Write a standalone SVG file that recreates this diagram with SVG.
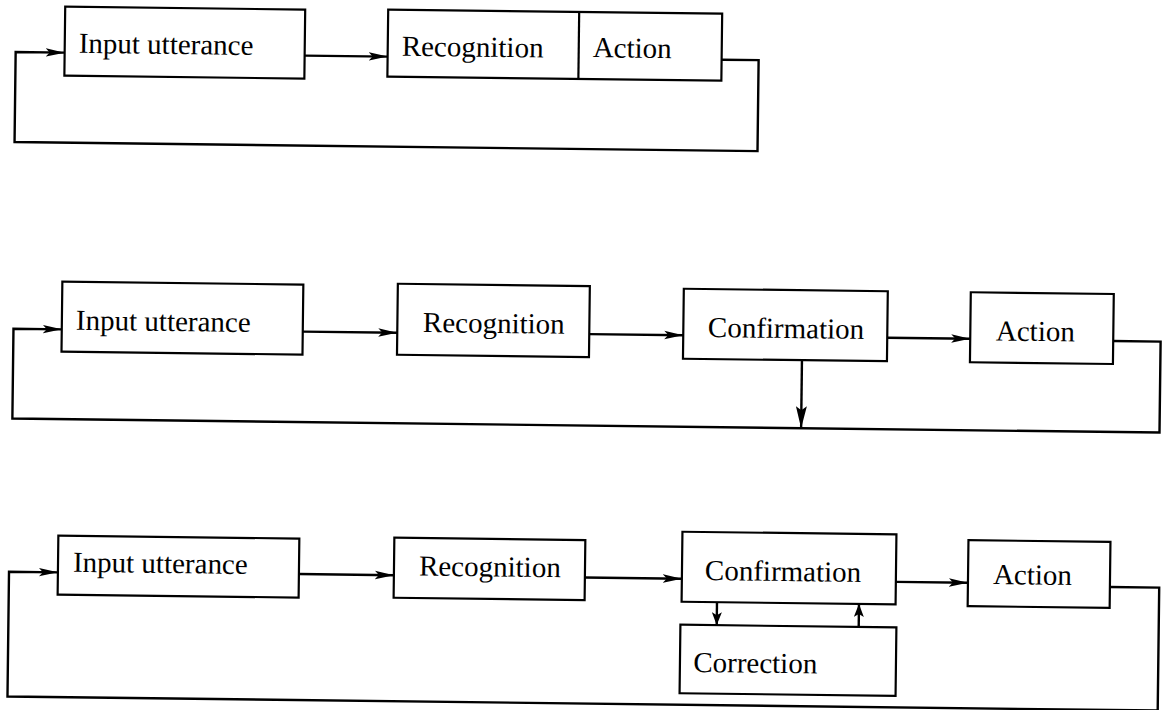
<svg xmlns="http://www.w3.org/2000/svg" width="1163" height="710" viewBox="0 0 1163 710">
<style>
.box{fill:#fff;stroke:#000;stroke-width:2.2}
.lbl{font-family:"Liberation Serif","Times New Roman",serif;font-size:29px;fill:#000}
.con{fill:none;stroke:#000;stroke-width:2.4}
.a{marker-end:url(#ah)}
.aL{marker-end:url(#ahL)}
.aS{marker-end:url(#ahS)}
</style>
<defs>
<marker id="ah" viewBox="0 0 19 10" markerWidth="19" markerHeight="10" refX="19" refY="5" orient="auto" markerUnits="userSpaceOnUse"><path d="M0,0.8 L19,5 L0,9.2 L4,5 Z" fill="#000"/></marker>
<marker id="ahL" viewBox="0 0 22 11" markerWidth="22" markerHeight="11" refX="22" refY="5.5" orient="auto" markerUnits="userSpaceOnUse"><path d="M0,0 L22,5.5 L0,11 L4,5.5 Z" fill="#000"/></marker>
<marker id="ahS" viewBox="0 0 13 10" markerWidth="13" markerHeight="10" refX="13" refY="5" orient="auto" markerUnits="userSpaceOnUse"><path d="M0,0 L13,5 L0,10 L3,5 Z" fill="#000"/></marker>
</defs>
<rect width="1163" height="710" fill="#fff"/>
<g transform="rotate(0.7 581 355)">
<g id="connectors">
<path class="con a" d="M301,59 L384,59"/>
<path class="con a" d="M718,58 L755,58 L755,149 L12,149 L12,59 L61,59"/>
<path class="con a" d="M302.5,335 L397,335"/>
<path class="con a" d="M589,334 L683,334"/>
<path class="con a" d="M887,334 L970,334"/>
<path class="con a" d="M1113,334.5 L1160.4,334.5 L1160.4,425.5 L13.2,425.5 L13.2,335.7 L61.5,335.7"/>
<path class="con aL" d="M802,357.5 L802,425.5"/>
<path class="con a" d="M301.6,577.5 L396.6,577.5"/>
<path class="con a" d="M587.6,577.5 L684.6,577.5"/>
<path class="con a" d="M898.6,578 L970.7,578"/>
<path class="con a" d="M1112.7,580.5 L1162,580.5 L1162,703.5 L11.7,703.5 L11.7,578.7 L60.6,578.7"/>
<path class="con aS" d="M720,600.5 L720,623.5"/>
<path class="con aS" d="M862,623.5 L862,600.5"/>
</g>
<g id="d1-input"><rect class="box" x="61" y="13" width="240" height="69"/><text class="lbl" x="75" y="59">Input utterance</text></g>
<g id="d1-recognition-action"><rect class="box" x="384" y="12" width="334" height="67"/><line x1="575" y1="12" x2="575" y2="79" stroke="#000" stroke-width="2.2"/><text class="lbl" x="398" y="58">Recognition</text><text class="lbl" x="589" y="57">Action</text></g>
<g id="d2-input"><rect class="box" x="61.5" y="288" width="241" height="70"/><text class="lbl" x="75.6" y="336">Input utterance</text></g>
<g id="d2-recognition"><rect class="box" x="397" y="286" width="192" height="71"/><text class="lbl" x="422.6" y="334">Recognition</text></g>
<g id="d2-confirmation"><rect class="box" x="683" y="287.5" width="204" height="70"/><text class="lbl" x="707.6" y="335.5">Confirmation</text></g>
<g id="d2-action"><rect class="box" x="970" y="287.5" width="143" height="70"/><text class="lbl" x="995.6" y="335.4">Action</text></g>
<g id="d3-input"><rect class="box" x="60.6" y="542" width="241" height="59"/><text class="lbl" x="75.6" y="578">Input utterance</text></g>
<g id="d3-recognition"><rect class="box" x="396.6" y="540" width="191" height="60"/><text class="lbl" x="421.6" y="577.5">Recognition</text></g>
<g id="d3-confirmation"><rect class="box" x="684.6" y="530.5" width="214" height="70"/><text class="lbl" x="707.6" y="578.5">Confirmation</text></g>
<g id="d3-action"><rect class="box" x="970.7" y="535.4" width="142" height="66"/><text class="lbl" x="995.7" y="579">Action</text></g>
<g id="d3-correction"><rect class="box" x="683.7" y="623.5" width="216" height="68.5"/><text class="lbl" x="697" y="670.5">Correction</text></g>
</g>
</svg>
